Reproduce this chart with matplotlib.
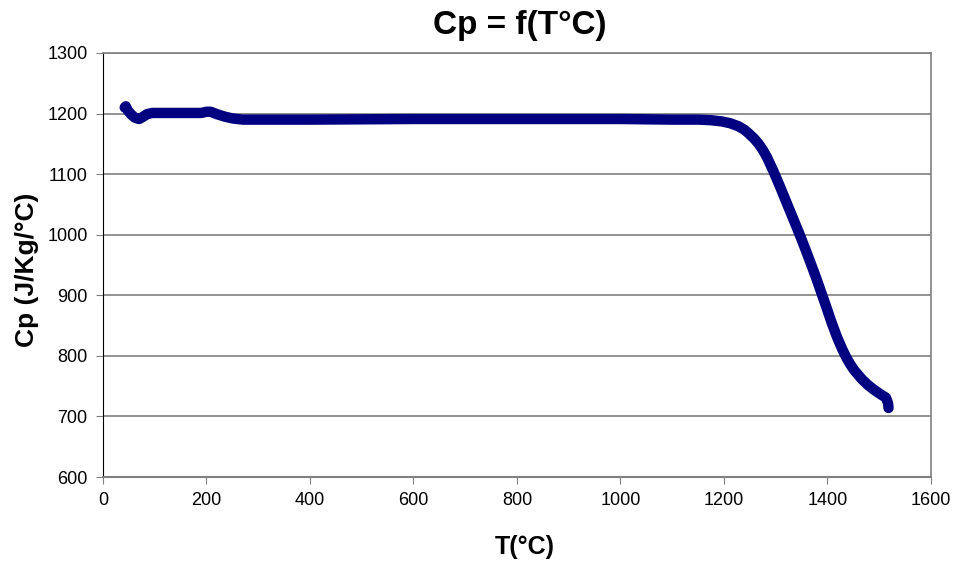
import matplotlib
matplotlib.use("Agg")
import matplotlib.pyplot as plt

plt.rcParams['font.family'] = ['Liberation Sans', 'DejaVu Sans']

temperature = [42, 44, 48, 55, 62, 70, 78, 85, 95, 110, 150, 190, 200, 208, 220, 235, 250, 270, 300,
               400, 600, 800, 1000, 1100, 1150, 1175, 1196, 1212, 1228, 1240, 1248, 1258, 1267, 1275, 1283,
               1296, 1308, 1319, 1332, 1345, 1356, 1368, 1378, 1387, 1398, 1408, 1418, 1428, 1436, 1444, 1452,
               1466, 1478, 1490, 1502, 1513, 1517, 1518]
cp = [1210, 1212, 1205, 1198, 1193, 1191, 1195, 1199, 1201, 1201, 1201, 1201, 1203, 1203, 1199, 1195, 1192, 1190, 1190,
      1190, 1191, 1191, 1191, 1190, 1190, 1189, 1187, 1184, 1179, 1173, 1167, 1159, 1150, 1140, 1128,
      1104, 1080, 1057, 1030, 1003, 979, 952, 929, 907, 880, 855, 832, 812, 798, 786, 776,
      762, 752, 744, 737, 731, 722, 714]

x_ticks = [0, 200, 400, 600, 800, 1000, 1200, 1400, 1600]
y_ticks = [600, 700, 800, 900, 1000, 1100, 1200, 1300]

fig = plt.figure(figsize=(9.57, 5.63), dpi=100)
ax = fig.add_axes([0.1076, 0.1527, 0.9728 - 0.1076, 0.9059 - 0.1527])

ax.plot(temperature, cp, color='#000080', linewidth=7.5, solid_capstyle='round', solid_joinstyle='round')

ax.set_xlim(0, 1600)
ax.set_ylim(600, 1300)
ax.set_xticks(x_ticks)
ax.set_yticks(y_ticks)
ax.tick_params(axis='both', labelsize=13, direction='out', length=5, color='#808080', pad=6)
ax.yaxis.grid(True, color='#808080', linewidth=1.2)
ax.set_axisbelow(True)

for side in ['top', 'right']:
    ax.spines[side].set_color('#808080')
    ax.spines[side].set_linewidth(1.2)
ax.spines['left'].set_color('black')
ax.spines['bottom'].set_color('#808080')
ax.spines['bottom'].set_linewidth(1.5)

fig.text(0.543, 0.955, 'Cp = f(T°C)', fontsize=24, fontweight='bold', ha='center', va='center')
fig.text(0.548, 0.028, 'T(°C)', fontsize=18, fontweight='bold', ha='center', va='center')
fig.text(0.028, 0.52, 'Cp (J/Kg/°C)', fontsize=19, fontweight='bold', ha='center', va='center', rotation=90)

fig.savefig('out.png', dpi=100)
